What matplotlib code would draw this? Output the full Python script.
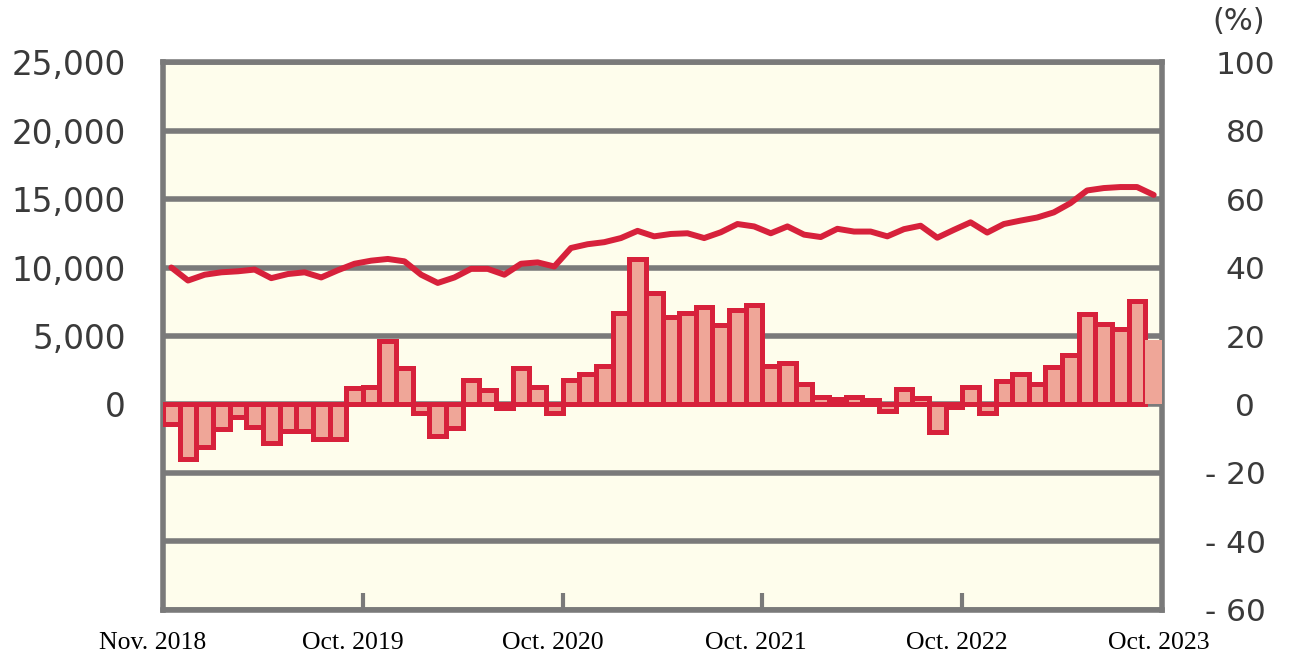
import numpy as np
import matplotlib
matplotlib.use("Agg")
import matplotlib.pyplot as plt

# bars: monthly change (left axis), Nov 2018 .. Oct 2023
change = [-1400, -4000, -3100, -1800, -900, -1650, -2800, -1900, -1900, -2500,
          -2500, 1170, 1300, 4640, 2670, -600, -2300, -1700, 1770, 1040,
          -270, 2670, 1300, -600, 1800, 2190, 2800, 6680, 10640, 8140,
          6390, 6680, 7120, 5780, 6880, 7290, 2800, 3060, 1530, 560,
          400, 560, 300, -440, 1120, 490, -2000, -200, 1290, -600,
          1700, 2190, 1460, 2750, 3640, 6630, 5900, 5540, 7530, 4690]

# line: ratio (%) on right axis
ratio = [40.0, 36.2, 37.9, 38.6, 38.9, 39.4, 36.9, 38.1, 38.6, 37.1,
         39.2, 41.1, 42.0, 42.5, 41.8, 37.9, 35.5, 37.1, 39.6, 39.6,
         37.9, 41.1, 41.5, 40.3, 45.7, 46.8, 47.4, 48.6, 50.7, 49.1,
         49.8, 50.0, 48.6, 50.3, 52.7, 52.0, 50.0, 52.0, 49.6, 48.9,
         51.3, 50.5, 50.5, 49.1, 51.2, 52.2, 48.7, 51.0, 53.2, 50.2,
         52.7, 53.7, 54.6, 56.1, 58.8, 62.5, 63.2, 63.5, 63.5, 61.2]

xlabels = ["Nov. 2018", "Oct. 2019", "Oct. 2020", "Oct. 2021", "Oct. 2022", "Oct. 2023"]
xlabel_pos = [-0.6, 11.4, 23.4, 35.6, 47.7, 59.8]
year_ticks = [12, 24, 36, 48]

left_ticks = list(range(-15000, 25001, 5000))
left_labels = ["" if v < 0 else f"{v:,}" for v in left_ticks]
right_ticks = list(range(-60, 101, 20))
right_labels = [f"- {abs(v)}  " if v < 0 else str(v) for v in right_ticks]

red = "#d7213b"
fill = "#efa698"
grey = "#7a7a7a"
txt = "#3a3a3a"

fig = plt.figure(figsize=(12.92, 6.6), dpi=100)
ax = fig.add_axes([0.1262, 0.0758, 0.7732, 0.8302])
ax.set_facecolor("#fefdec")

x = np.arange(len(change)) + 0.5
ax.bar(x[:-1], change[:-1], width=1.0, color=fill, edgecolor=red,
       linewidth=3.6, zorder=3)
ax.bar(x[-1:], change[-1:], width=1.0, color=fill, linewidth=0, zorder=3)

ax.set_yticks(left_ticks)
ax.set_yticklabels(left_labels)
ax.grid(axis="y", color=grey, linewidth=4, zorder=1)
ax.set_axisbelow(True)
ax.tick_params(axis="y", length=0, pad=27, labelsize=23.5, labelcolor=txt)

ax.set_xticks([])
ax.set_xticks(year_ticks, minor=True)
ax.tick_params(axis="x", which="minor", direction="in", length=12, width=3,
               color=grey, labelbottom=False)
for pos, lab in zip(xlabel_pos, xlabels):
    ax.text(pos, -0.06, lab, transform=ax.get_xaxis_transform(), ha="center",
            va="center", fontfamily="Liberation Serif", fontsize=18.5, color="black",
            clip_on=False)

ax.set_xlim(0, len(change))
ax.set_ylim(-15000, 25000)

for s in ax.spines.values():
    s.set_color(grey)
    s.set_linewidth(4)

ax2 = ax.twinx()
ax2.plot(x, ratio, color=red, linewidth=4.3, solid_capstyle="round",
         solid_joinstyle="round", zorder=4)
ax2.set_yticks(right_ticks)
ax2.set_yticklabels(right_labels)
ax2.set_ylim(-60, 100)
for lab in ax2.get_yticklabels():
    lab.set_horizontalalignment("center")
ax2.tick_params(axis="y", length=0, pad=60, labelsize=22.5, labelcolor=txt)
for s in ax2.spines.values():
    s.set_visible(False)

fig.text(0.959, 0.967, "(%)", ha="center", va="center", fontsize=22, color=txt)

fig.savefig("out.png", dpi=100)
